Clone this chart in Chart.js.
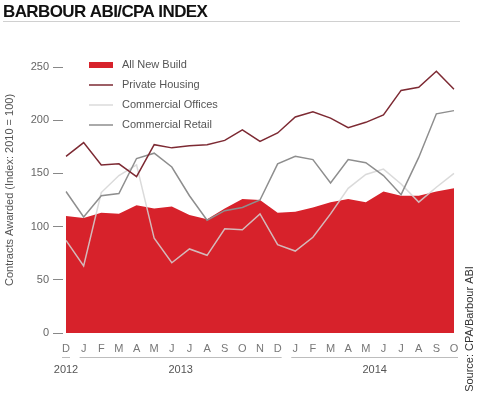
<!DOCTYPE html>
<html>
<head>
<meta charset="utf-8">
<script src="https://cdn.jsdelivr.net/npm/chart.js@4"></script>
<style>
  html, body { margin: 0; padding: 0; background: #fff; }
  #wrap { position: relative; width: 480px; height: 397px; }
</style>
</head>
<body>
<div id="wrap"><canvas id="abiChart" width="480" height="397"></canvas></div>
<script>
// months Dec 2012 .. Oct 2014
const months = ['D', 'J', 'F', 'M', 'A', 'M', 'J', 'J', 'A', 'S', 'O', 'N', 'D',
                'J', 'F', 'M', 'A', 'M', 'J', 'J', 'A', 'S', 'O'];
const years = ['2012', '2013', '2014'];
const yearFirst = [0, 1, 13];
const yearLast = [0, 12, 22];
const yTicks = [0, 50, 100, 150, 200, 250];

const allNewBuild = [110, 108, 113, 112, 120, 117, 119, 111, 107, 117, 126, 125, 113,
                     114, 118, 123, 126, 123, 133, 129, 129, 133, 136];
const privateHousing = [166, 179, 158, 159, 147, 177, 174, 176, 177, 181, 191, 180, 188,
                        203, 208, 202, 193, 198, 205, 228, 231, 246, 229];
const commercialOffices = [87, 63, 132, 148, 158, 89, 66, 79, 73, 98, 97, 112, 83,
                           77, 90, 112, 136, 149, 154, 140, 123, 137, 150];
const commercialRetail = [133, 109, 129, 131, 164, 169, 156, 129, 106, 115, 118, 125, 159,
                          166, 163, 141, 163, 160, 148, 130, 165, 206, 209];

const FONT = '"Liberation Sans", Arial, sans-serif';

// title, legend, year groups, axis title and source note
const annotations = {
    id: 'annotations',
    afterDraw(chart) {
        const ctx = chart.ctx;
        const xs = chart.scales.x;
        const area = chart.chartArea;
        ctx.save();

        // title + rule
        ctx.fillStyle = '#111';
        ctx.font = '800 17px ' + FONT;
        ctx.letterSpacing = '-0.6px';
        ctx.textAlign = 'left';
        ctx.textBaseline = 'alphabetic';
        ctx.fillText('BARBOUR ABI/CPA INDEX', 3, 17);
        ctx.letterSpacing = '0px';
        ctx.strokeStyle = '#d0d0d0';
        ctx.lineWidth = 1;
        ctx.beginPath();
        ctx.moveTo(3, 21.5);
        ctx.lineTo(460, 21.5);
        ctx.stroke();

        // legend inside the plot
        ctx.font = '11px ' + FONT;
        ctx.textBaseline = 'middle';
        chart.data.datasets.forEach((ds, i) => {
            const y = 65 + i * 20;
            if (ds.fill) {
                ctx.fillStyle = ds.backgroundColor;
                ctx.fillRect(89, y - 3, 24, 6);
            } else {
                ctx.strokeStyle = ds.borderColor;
                ctx.lineWidth = 1.5;
                ctx.beginPath();
                ctx.moveTo(89, y);
                ctx.lineTo(113, y);
                ctx.stroke();
            }
            ctx.fillStyle = '#555';
            ctx.fillText(ds.label, 122, y);
        });

        // year groups under the month labels
        ctx.strokeStyle = '#bdbdbd';
        ctx.lineWidth = 1;
        ctx.fillStyle = '#555';
        ctx.textAlign = 'center';
        ctx.font = '11px ' + FONT;
        years.forEach((yr, i) => {
            const x1 = xs.getPixelForValue(yearFirst[i]) - 4;
            const x2 = xs.getPixelForValue(yearLast[i]) + 4;
            ctx.beginPath();
            ctx.moveTo(x1, 357.5);
            ctx.lineTo(x2, 357.5);
            ctx.stroke();
            ctx.fillText(yr, (x1 + x2) / 2, 370);
        });

        // y axis title
        ctx.fillStyle = '#555';
        ctx.font = '11px ' + FONT;
        ctx.translate(10, 190);
        ctx.rotate(-Math.PI / 2);
        ctx.fillText('Contracts Awarded (Index: 2010 = 100)', 0, 0);
        ctx.setTransform(1, 0, 0, 1, 0, 0);

        // source
        ctx.fillStyle = '#333';
        ctx.translate(470, 329);
        ctx.rotate(-Math.PI / 2);
        ctx.fillText('Source: CPA/Barbour ABI', 0, 0);
        ctx.restore();
    }
};

new Chart(document.getElementById('abiChart').getContext('2d'), {
    type: 'line',
    data: {
        labels: months,
        datasets: [{
            label: 'All New Build',
            data: allNewBuild,
            backgroundColor: '#d7222b',
            borderColor: '#d7222b',
            borderWidth: 0,
            fill: 'origin',
            order: 4
        }, {
            label: 'Private Housing',
            data: privateHousing,
            borderColor: '#7d2a33',
            borderWidth: 1.5,
            fill: false,
            order: 1
        }, {
            label: 'Commercial Offices',
            data: commercialOffices,
            borderColor: 'rgba(212, 212, 212, 0.85)',
            borderWidth: 1.5,
            fill: false,
            order: 3
        }, {
            label: 'Commercial Retail',
            data: commercialRetail,
            borderColor: '#8e8e8e',
            borderWidth: 1.5,
            fill: false,
            order: 2
        }]
    },
    options: {
        responsive: false,
        animation: false,
        layout: { padding: { top: 67, right: 26, bottom: 0, left: 0 } },
        elements: { point: { radius: 0 }, line: { tension: 0 } },
        plugins: {
            legend: { display: false },
            tooltip: { enabled: false }
        },
        scales: {
            x: {
                grid: { display: false, drawTicks: false },
                border: { display: false },
                ticks: {
                    color: '#777',
                    font: { family: FONT, size: 11 },
                    padding: 9,
                    autoSkip: false,
                    maxRotation: 0
                },
                afterFit: (scale) => { scale.height = 64; }
            },
            y: {
                min: 0,
                max: 250,
                afterBuildTicks: (scale) => { scale.ticks = yTicks.map(v => ({ value: v })); },
                grid: {
                    drawOnChartArea: false,
                    tickLength: 13,
                    tickColor: '#888',
                    tickWidth: 1,
                    tickBorderDash: [10, 3]
                },
                border: { display: false },
                ticks: {
                    color: '#666',
                    font: { family: FONT, size: 11 },
                    padding: 4
                },
                afterFit: (scale) => { scale.width = 66; }
            }
        }
    },
    plugins: [annotations]
});
</script>
</body>
</html>
